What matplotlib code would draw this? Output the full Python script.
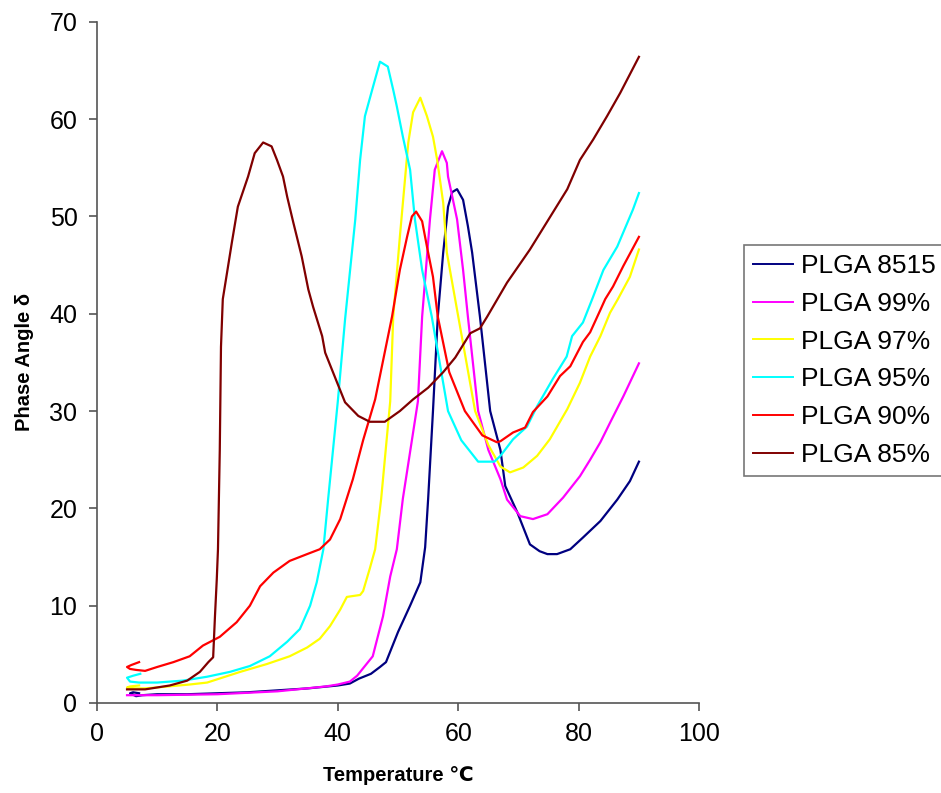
import matplotlib
matplotlib.use("Agg")
import matplotlib.pyplot as plt

plt.rcParams['font.family'] = ['Liberation Sans', 'DejaVu Sans']

# Phase angle vs temperature
navy_T = [7, 6, 5.5, 6.5, 7.5, 10, 15, 20, 25, 30, 35, 40, 42, 43.5, 45.5, 47, 48, 50, 52, 53.7,
          54.5, 55, 55.8, 56.6, 57.5, 58.3, 59, 59.8, 60.8, 61.6, 62.3, 63.6, 65.3, 67, 67.8,
          69.8, 71.9, 73.5, 74.8, 76.4, 78.6, 80.7, 83.6, 86.4, 88.5, 90]
navy_d = [1.0, 1.1, 1.0, 0.7, 0.8, 0.9, 0.9, 1.0, 1.1, 1.3, 1.5, 1.8, 2.0, 2.5, 3.0, 3.7, 4.2, 7.3,
          10, 12.4, 16, 21, 30, 39.7, 46.3, 51, 52.5, 52.8, 51.7, 49, 46.3, 39.7, 30, 26, 22.3,
          19.6, 16.3, 15.6, 15.3, 15.3, 15.8, 17, 18.7, 20.9, 22.8, 24.8]

magenta_T = [5, 10, 20, 30, 38, 40, 42, 43.2, 45.8, 47.5, 48.7, 49.8, 50.8, 53.3, 54, 55.3, 56.1,
             57.3, 58.1, 58.3, 59.8, 60.8, 61.6, 63.3, 65, 67, 68.1, 70.3, 72.4, 74.8, 77.4,
             80.2, 81.9, 83.6, 85.2, 87.4, 90]
magenta_d = [0.8, 0.8, 0.9, 1.2, 1.7, 1.9, 2.2, 2.8, 4.8, 8.9, 13, 15.8, 21, 31, 39.7, 49.7, 54.8,
             56.7, 55.5, 54.1, 49.7, 44.5, 39.7, 30, 26, 23, 20.9, 19.2, 18.9, 19.4, 21.1,
             23.3, 25, 26.8, 28.8, 31.5, 34.9]

yellow_T = [7, 5.5, 5, 5.5, 8, 10, 15.4, 18.3, 23.8, 28.2, 32, 34.9, 37, 38.7, 40.4, 41.5, 43.7,
            44.2, 45.3, 46.2, 47.2, 48.7, 49.2, 50.3, 51.7, 52.5, 53.7, 54.8, 55.8, 56.5, 57.5,
            58.1, 60, 62.8, 65, 67, 68.6, 70.8, 73.1, 75.2, 78.1, 80.2, 81.9, 83.6, 85.2, 86.5,
            88.5, 90]
yellow_d = [1.8, 1.7, 1.6, 1.5, 1.5, 1.6, 1.9, 2.1, 3.2, 4.0, 4.8, 5.7, 6.6, 7.9, 9.6, 10.9, 11.1,
            11.5, 13.8, 15.8, 21, 31, 39.7, 47.9, 57.6, 60.7, 62.2, 60.3, 58.2, 55.8, 51.4,
            46.3, 39.7, 30, 26.5, 24.3, 23.7, 24.2, 25.4, 27.1, 30.2, 32.9, 35.6, 37.7, 40.1, 41.5,
            43.8, 46.6]

cyan_T = [7.2, 6, 5, 5.5, 7, 10, 14.3, 18.3, 22.1, 25.4, 28.7, 31.6, 33.7, 35.4, 36.5, 37.6, 38.4,
          40, 41.2, 42.9, 43.7, 44.5, 45.7, 47, 48.3, 49.2, 49.8, 50.8, 52, 52.8, 54, 55.6, 58.3,
          60.5, 63.3, 66, 67, 69.1, 71.4, 73.1, 75.7, 78, 78.9, 80.7, 82.3, 84.1, 86.4, 89, 90]
cyan_d = [3.0, 2.8, 2.6, 2.2, 2.1, 2.1, 2.3, 2.7, 3.2, 3.8, 4.8, 6.3, 7.6, 10, 12.4, 15.8, 21,
          31, 39.4, 49.7, 55.8, 60.3, 63, 65.9, 65.4, 63, 61.3, 58.2, 54.8, 49.7, 44.5, 39.7, 30,
          27, 24.8, 24.8, 25.4, 27.1, 28.4, 30.5, 33.3, 35.6, 37.7, 39.1, 41.6, 44.5, 46.9, 50.7, 52.4]

red_T = [7, 5.7, 5, 5.5, 6.5, 8, 10, 12.7, 15.4, 17.6, 20.4, 23.2, 25.4, 27.1, 29.3, 32, 34.9, 37,
         38.7, 40.4, 42.5, 44.2, 46.2, 49, 50.3, 51.5, 52.3, 53, 54, 54.8, 55.8, 56.6, 58.5, 61.1,
         64, 66.4, 67, 69.1, 71.1, 72.4, 74.8, 76.9, 78.6, 80.7, 81.9, 83.6, 84.4, 85.7, 87.4, 90]
red_d = [4.2, 3.9, 3.7, 3.5, 3.4, 3.3, 3.7, 4.2, 4.8, 5.9, 6.8, 8.3, 10, 12, 13.4, 14.6, 15.3, 15.8,
         16.8, 18.9, 23, 27, 31.2, 39.7, 44.5, 47.9, 50, 50.5, 49.5, 46.9, 43.8, 39.7, 34, 30,
         27.5, 26.8, 26.9, 27.8, 28.3, 29.9, 31.5, 33.6, 34.6, 37.1, 38.1, 40.4, 41.5, 42.8, 44.9, 47.9]

maroon_T = [5, 8, 12.1, 15, 17.1, 18.5, 19.3, 19.6, 19.9, 20.1, 20.4, 20.6, 20.9, 21.6, 22.4, 23.4,
            25.1, 26.2, 27.6, 29, 29.9, 30.9, 31.6, 32.6, 34, 35.1, 35.9, 37.4, 37.9, 39.9, 41.2,
            43.4, 45.3, 47.8, 50.3, 52.5, 55, 57.5, 59.5, 62, 63.6, 64.8, 68.1, 71.9, 75.7, 78.1,
            80.2, 82.4, 84.7, 86.9, 90]
maroon_d = [1.4, 1.4, 1.8, 2.3, 3.2, 4.2, 4.7, 8.9, 12.7, 15.8, 26, 36.6, 41.5, 44.2, 47.3, 51,
            54.1, 56.5, 57.6, 57.2, 55.8, 54.1, 52, 49.4, 45.9, 42.5, 40.7, 37.7, 36, 32.9, 30.9,
            29.5, 28.9, 28.9, 30, 31.2, 32.4, 34, 35.5, 38, 38.5, 39.7, 43.2, 46.6, 50.4, 52.8,
            55.8, 57.9, 60.3, 62.7, 66.4]

labels = ['PLGA 8515', 'PLGA 99%', 'PLGA 97%', 'PLGA 95%', 'PLGA 90%', 'PLGA 85%']
colors = ['#000080', '#FF00FF', '#FFFF00', '#00FFFF', '#FF0000', '#800000']
series = [(navy_T, navy_d), (magenta_T, magenta_d), (yellow_T, yellow_d),
          (cyan_T, cyan_d), (red_T, red_d), (maroon_T, maroon_d)]

fig = plt.figure(figsize=(9.41, 7.93), dpi=100)
ax = fig.add_axes([0.103, 0.1135, 0.640, 0.859])

for (t, d), lab, col in zip(series, labels, colors):
    ax.plot(t, d, color=col, lw=1.6, label=lab)

ax.set_xlim(0, 100)
ax.set_ylim(0, 70)
ax.set_xticks(range(0, 101, 20))
ax.set_yticks(range(0, 71, 10))

for side in ['top', 'right']:
    ax.spines[side].set_visible(False)
for side in ['left', 'bottom']:
    ax.spines[side].set_color('#555555')
    ax.spines[side].set_linewidth(1.2)
ax.tick_params(direction='out', length=6, width=1.2, color='#555555', labelsize=18, pad=8)

ax.set_xlabel('Temperature \u2103', fontsize=14.5, fontweight='bold', labelpad=14)
ax.set_ylabel('Phase Angle \u03b4', fontsize=14.5, fontweight='bold', labelpad=11)

leg = fig.legend(loc='upper left', bbox_to_anchor=(744 / 941, 1 - 245 / 793), fontsize=19,
                 frameon=True, fancybox=False, shadow=False, handlelength=1.5,
                 handletextpad=0.3, labelspacing=0.52, borderpad=0.35, borderaxespad=0)
leg.get_frame().set_edgecolor('#555555')
leg.get_frame().set_linewidth(1.2)
for h in leg.get_lines():
    h.set_linewidth(1.4)

fig.savefig('out.png', dpi=100)
